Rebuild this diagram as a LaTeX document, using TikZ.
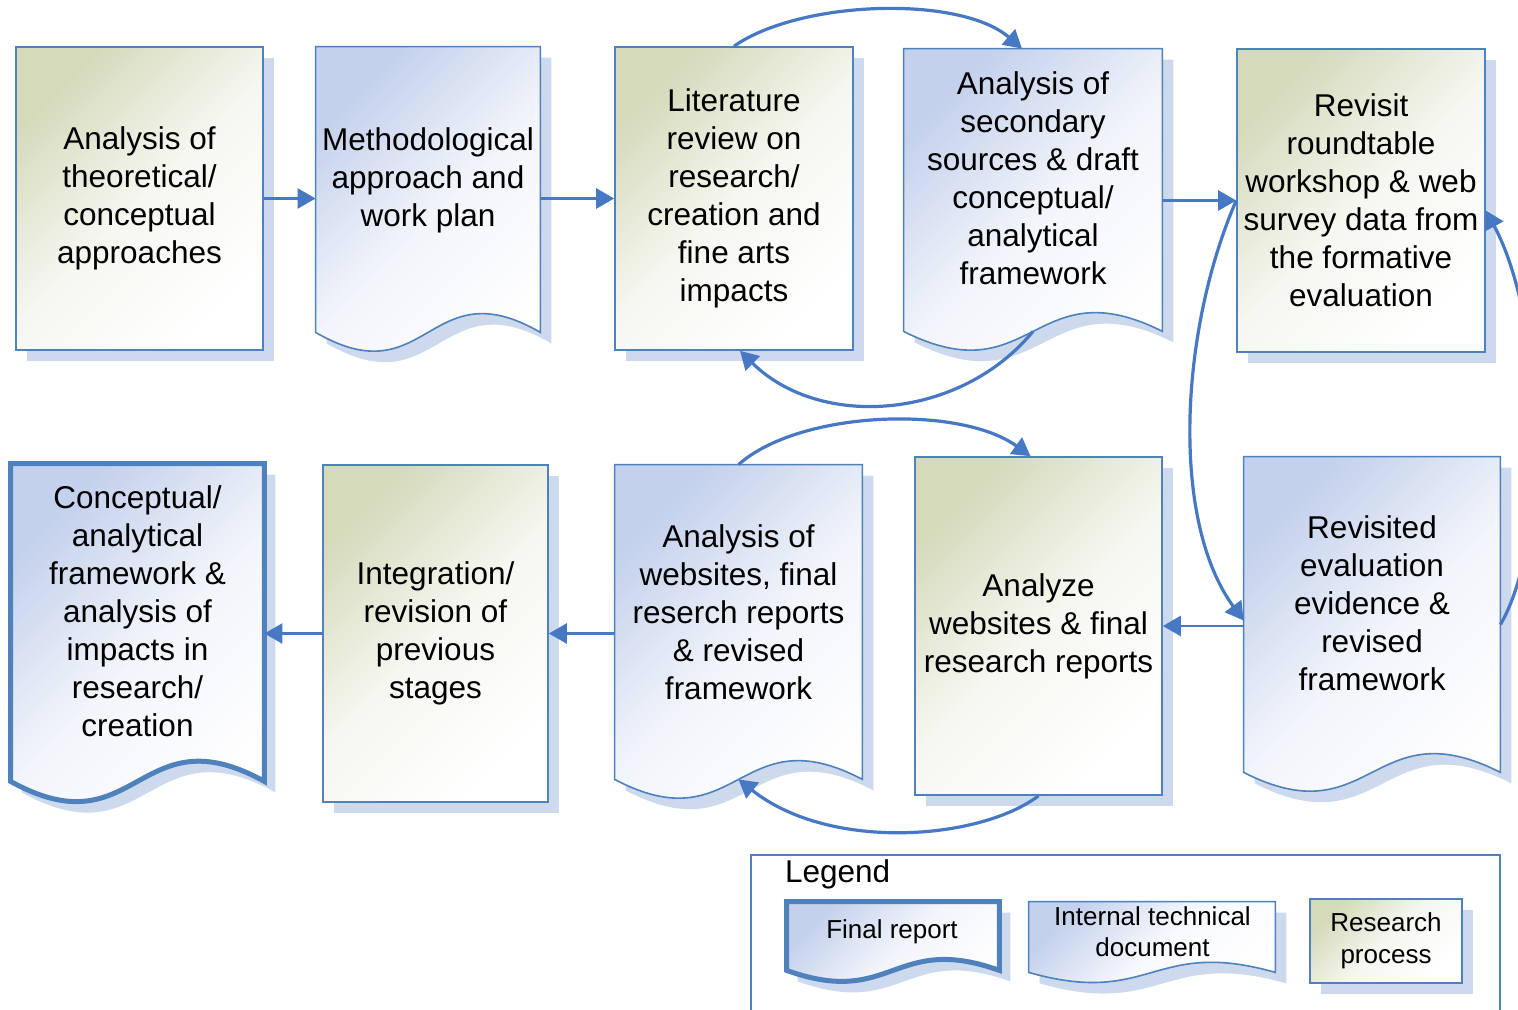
\documentclass[tikz,border=0pt]{standalone}
\usepackage{fontspec}
\setmainfont{Liberation Sans}
\usetikzlibrary{arrows.meta,shadows}
\definecolor{boxblue}{RGB}{79,129,189}
\definecolor{linkblue}{RGB}{71,120,196}
\definecolor{shadowblue}{RGB}{205,217,236}
\definecolor{procolive}{RGB}{212,218,186}
\definecolor{docblue}{RGB}{196,209,236}

\begin{document}
\begin{tikzpicture}[x=0.5pt,y=-0.5pt,>={Triangle[length=9pt,width=10pt]},
  box shadow/.style={drop shadow={fill=shadowblue,opacity=1,shadow xshift=5.5pt,shadow yshift=-5.5pt}},
  proc node/.style={rectangle,draw=boxblue,line width=0.8pt,inner sep=0pt,align=center,
    top color=procolive,bottom color=white,middle color=procolive!22!white,shading angle=45,
    box shadow,font=\fontsize{15.75}{19}\selectfont},
  doc node/.style={rectangle,inner sep=0pt},
  doc fill/.style={draw=boxblue,line width=0.8pt,top color=docblue,bottom color=white,
    middle color=docblue!22!white,shading angle=45,box shadow},
  final fill/.style={doc fill,line width=2.5pt},
  label text/.style={align=center,font=\fontsize{15.75}{19}\selectfont},
  small text/.style={align=center,font=\fontsize{13}{15.75}\selectfont},
  link/.style={draw=linkblue,line width=1.3pt,->},
  curve link/.style={link,line width=1.6pt}]

  \useasboundingbox (0,0) rectangle (1518,1010);

  % top row
  \node[proc node,minimum width=123.5pt,minimum height=151.5pt] (a1) at (139.5,198.5)
    {Analysis of\\theoretical/\\conceptual\\approaches};

  \node[doc node,minimum width=112pt,minimum height=142.5pt] (a2) at (428,189.5) {};
  \path[doc fill] (a2.north west) -- (a2.north east) -- (a2.south east)
    .. controls +(-112,-65) and +(112,65) .. (a2.south west) -- cycle;
  \node[label text] (a2t) at (428,180) {Methodological\\approach and\\work plan};

  \node[proc node,minimum width=119pt,minimum height=151.5pt] (a3) at (734,198.5)
    {Literature\\review on\\research/\\creation and\\fine arts\\impacts};

  \node[doc node,minimum width=129pt,minimum height=141pt] (a4) at (1033,190) {};
  \path[doc fill] (a4.north west) -- (a4.north east) -- (a4.south east)
    .. controls +(-129,-65) and +(129,65) .. (a4.south west) -- cycle;
  \node[label text] (a4t) at (1033,178)
    {Analysis of\\secondary\\sources \& draft\\conceptual/\\analytical\\framework};

  \node[proc node,minimum width=124pt,minimum height=151.5pt] (a5) at (1361,200.5)
    {Revisit\\roundtable\\workshop \& web\\survey data from\\the formative\\evaluation};

  % bottom row
  \node[doc node,minimum width=126.5pt,minimum height=158.5pt] (b1) at (137.5,622.5) {};
  \path[final fill] (b1.north west) -- (b1.north east) -- (b1.south east)
    .. controls +(-126.5,-70) and +(126.5,70) .. (b1.south west) -- cycle;
  \node[label text] (b1t) at (137.5,611)
    {Conceptual/\\analytical\\framework \&\\analysis of\\impacts in\\research/\\creation};

  \node[proc node,minimum width=112.5pt,minimum height=168.5pt] (b2) at (435.5,633.5)
    {Integration/\\revision of\\previous\\stages};

  \node[doc node,minimum width=123.5pt,minimum height=157pt] (b3) at (738.5,622) {};
  \path[doc fill] (b3.north west) -- (b3.north east) -- (b3.south east)
    .. controls +(-123.5,-65) and +(123.5,65) .. (b3.south west) -- cycle;
  \node[label text] (b3t) at (738.5,612)
    {Analysis of\\websites, final\\reserch reports\\\& revised\\framework};

  \node[proc node,minimum width=123.5pt,minimum height=169pt] (b4) at (1038.5,626)
    {Analyze\\websites \& final\\research reports};

  \node[doc node,minimum width=128pt,minimum height=157.5pt] (b5) at (1372,614.5) {};
  \path[doc fill] (b5.north west) -- (b5.north east) -- (b5.south east)
    .. controls +(-128,-65) and +(128,65) .. (b5.south west) -- cycle;
  \node[label text] (b5t) at (1372,603)
    {Revisited\\evaluation\\evidence \&\\revised\\framework};

  % legend
  \node[draw=boxblue,line width=0.8pt,minimum width=374.5pt,minimum height=87.5pt] (legend) at (1125.5,942.5) {};
  \node[label text,anchor=west] (legendt) at (778,874) {Legend};

  \node[doc node,minimum width=106pt,minimum height=34pt] (l1) at (893,936) {};
  \path[final fill] (l1.north west) -- (l1.north east) -- (l1.south east)
    .. controls +(-106,-38) and +(106,38) .. (l1.south west) -- cycle;
  \node[small text] (l1t) at (892,932) {Final report};

  \node[doc node,minimum width=123pt,minimum height=35pt] (l2) at (1152,937) {};
  \path[doc fill,middle color=docblue!12!white] (l2.north west) -- (l2.north east) -- (l2.south east)
    .. controls +(-123,-35) and +(123,35) .. (l2.south west) -- cycle;
  \node[small text] (l2t) at (1152.5,931.5) {Internal technical\\document};

  \node[proc node,small text,minimum width=76pt,minimum height=42pt] (l3) at (1386,941)
    {Research\\process};

  % connectors
  \draw[link] (a1.east) -- (a1.east -| a2.west);
  \draw[link] (a3.west -| a2.east) -- (a3.west);
  \draw[link] (a5.west -| a4.east) -- (a5.west);
  \draw[link] (b4.east -| b5.west) -- (b4.east);
  \draw[link] (b2.east -| b3.west) -- (b2.east);
  \draw[link] (b2.west) -- (b2.west -| b1.east);

  \draw[curve link] (a3.north) .. controls (800,0) and (960,-5) .. ([xshift=-5.5pt]a4.north);
  \draw[curve link] (a4.south) .. controls (960,420) and (820,430) .. ([xshift=3pt]a3.south);
  \draw[curve link] (b3.north) .. controls (800,410) and (960,405) .. ([xshift=-4pt]b4.north);
  \draw[curve link] (b4.south) .. controls (980,840) and (830,852) .. (b3.south);
  \draw[curve link] (a5.west) .. controls (1180,330) and (1170,520) .. ([yshift=-3pt]b5.west);
  \draw[curve link] ([yshift=-5pt]b5.east) .. controls (1550,540) and (1545,320) .. ([yshift=-5pt]a5.east);
\end{tikzpicture}
\end{document}
